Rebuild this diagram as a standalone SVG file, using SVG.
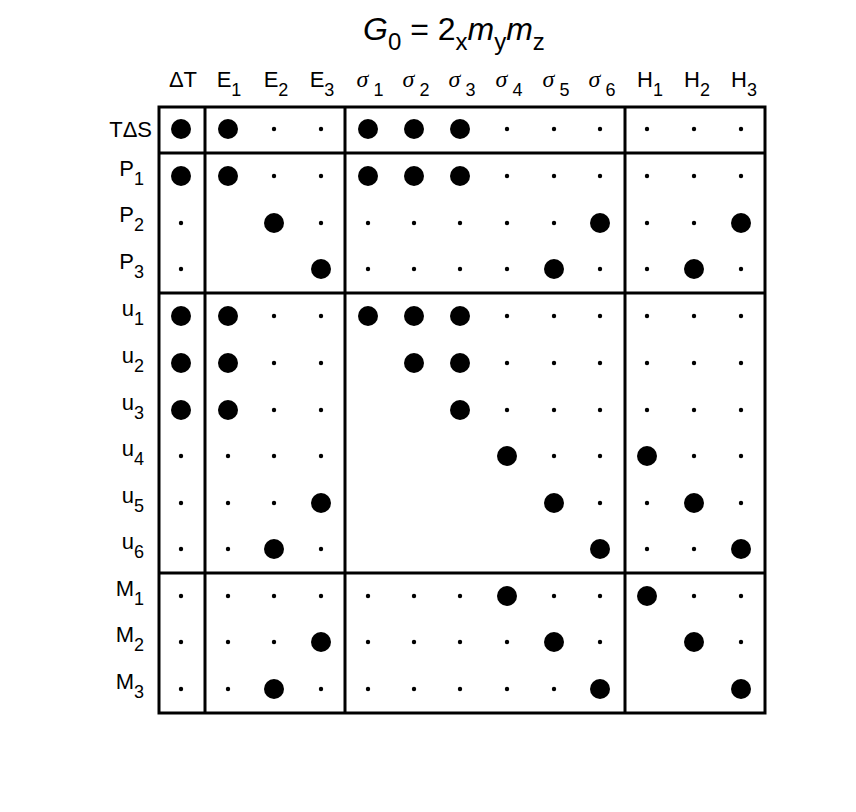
<svg xmlns="http://www.w3.org/2000/svg" xmlns:xlink="http://www.w3.org/1999/xlink" width="856" height="812" viewBox="0 0 856 812">
<style>
text{font-family:"Liberation Sans",Arial,sans-serif;font-size:22px;fill:#000}
.s{font-size:18px}
.g{font-family:"Liberation Serif",serif;font-style:italic;font-size:24px}
.t{font-size:32px}
.l{stroke:#000;stroke-width:3;fill:none}
</style>
<defs>
<circle id="B" r="10" fill="#000"/>
<circle id="s" r="2.2" fill="#000"/>
</defs>
<rect width="856" height="812" fill="#fff"/>
<g id="title"><text x="363" y="40" class="t"><tspan font-style="italic">G</tspan><tspan font-size="24" dy="10">0</tspan><tspan dy="-10"> = 2</tspan><tspan font-size="24" dy="10">x</tspan><tspan dy="-10" font-style="italic">m</tspan><tspan font-size="24" dy="10">y</tspan><tspan dy="-10" font-style="italic">m</tspan><tspan font-size="24" dy="10">z</tspan></text></g>
<g id="headers" text-anchor="middle">
<text x="183" y="87">ΔT</text>
<text x="229" y="87">E<tspan class="s" dy="9">1</tspan></text>
<text x="276" y="87">E<tspan class="s" dy="9">2</tspan></text>
<text x="322" y="87">E<tspan class="s" dy="9">3</tspan></text>
<text x="370" y="87"><tspan class="g">σ</tspan><tspan class="s" dy="9"> 1</tspan></text>
<text x="416" y="87"><tspan class="g">σ</tspan><tspan class="s" dy="9"> 2</tspan></text>
<text x="462" y="87"><tspan class="g">σ</tspan><tspan class="s" dy="9"> 3</tspan></text>
<text x="509" y="87"><tspan class="g">σ</tspan><tspan class="s" dy="9"> 4</tspan></text>
<text x="556" y="87"><tspan class="g">σ</tspan><tspan class="s" dy="9"> 5</tspan></text>
<text x="602" y="87"><tspan class="g">σ</tspan><tspan class="s" dy="9"> 6</tspan></text>
<text x="650" y="87">H<tspan class="s" dy="9">1</tspan></text>
<text x="697" y="87">H<tspan class="s" dy="9">2</tspan></text>
<text x="744" y="87">H<tspan class="s" dy="9">3</tspan></text>
</g>
<g id="rowlabels" text-anchor="end">
<text x="152" y="137">TΔS</text>
<text x="144" y="176">P<tspan class="s" dy="9">1</tspan></text>
<text x="144" y="222">P<tspan class="s" dy="9">2</tspan></text>
<text x="144" y="269">P<tspan class="s" dy="9">3</tspan></text>
<text x="144" y="316">u<tspan class="s" dy="9">1</tspan></text>
<text x="144" y="363">u<tspan class="s" dy="9">2</tspan></text>
<text x="144" y="410">u<tspan class="s" dy="9">3</tspan></text>
<text x="144" y="456">u<tspan class="s" dy="9">4</tspan></text>
<text x="144" y="503">u<tspan class="s" dy="9">5</tspan></text>
<text x="144" y="549">u<tspan class="s" dy="9">6</tspan></text>
<text x="144" y="596">M<tspan class="s" dy="9">1</tspan></text>
<text x="144" y="642">M<tspan class="s" dy="9">2</tspan></text>
<text x="144" y="689">M<tspan class="s" dy="9">3</tspan></text>
</g>
<g id="grid" class="l">
<rect x="159" y="107" width="606" height="606"/>
<line x1="205" y1="107" x2="205" y2="713"/>
<line x1="345" y1="107" x2="345" y2="713"/>
<line x1="625" y1="107" x2="625" y2="713"/>
<line x1="159" y1="153" x2="765" y2="153"/>
<line x1="159" y1="293" x2="765" y2="293"/>
<line x1="159" y1="573" x2="765" y2="573"/>
</g>
<g id="dots">
<g transform="translate(0,129)"><use href="#B" x="181"/><use href="#B" x="228"/><use href="#s" x="274"/><use href="#s" x="321"/><use href="#B" x="368"/><use href="#B" x="414"/><use href="#B" x="460"/><use href="#s" x="507"/><use href="#s" x="554"/><use href="#s" x="600"/><use href="#s" x="647"/><use href="#s" x="694"/><use href="#s" x="741"/></g>
<g transform="translate(0,176)"><use href="#B" x="181"/><use href="#B" x="228"/><use href="#s" x="274"/><use href="#s" x="321"/><use href="#B" x="368"/><use href="#B" x="414"/><use href="#B" x="460"/><use href="#s" x="507"/><use href="#s" x="554"/><use href="#s" x="600"/><use href="#s" x="647"/><use href="#s" x="694"/><use href="#s" x="741"/></g>
<g transform="translate(0,223)"><use href="#s" x="181"/><use href="#B" x="274"/><use href="#s" x="321"/><use href="#s" x="368"/><use href="#s" x="414"/><use href="#s" x="460"/><use href="#s" x="507"/><use href="#s" x="554"/><use href="#B" x="600"/><use href="#s" x="647"/><use href="#s" x="694"/><use href="#B" x="741"/></g>
<g transform="translate(0,269)"><use href="#s" x="181"/><use href="#B" x="321"/><use href="#s" x="368"/><use href="#s" x="414"/><use href="#s" x="460"/><use href="#s" x="507"/><use href="#B" x="554"/><use href="#s" x="600"/><use href="#s" x="647"/><use href="#B" x="694"/><use href="#s" x="741"/></g>
<g transform="translate(0,316)"><use href="#B" x="181"/><use href="#B" x="228"/><use href="#s" x="274"/><use href="#s" x="321"/><use href="#B" x="368"/><use href="#B" x="414"/><use href="#B" x="460"/><use href="#s" x="507"/><use href="#s" x="554"/><use href="#s" x="600"/><use href="#s" x="647"/><use href="#s" x="694"/><use href="#s" x="741"/></g>
<g transform="translate(0,363)"><use href="#B" x="181"/><use href="#B" x="228"/><use href="#s" x="274"/><use href="#s" x="321"/><use href="#B" x="414"/><use href="#B" x="460"/><use href="#s" x="507"/><use href="#s" x="554"/><use href="#s" x="600"/><use href="#s" x="647"/><use href="#s" x="694"/><use href="#s" x="741"/></g>
<g transform="translate(0,410)"><use href="#B" x="181"/><use href="#B" x="228"/><use href="#s" x="274"/><use href="#s" x="321"/><use href="#B" x="460"/><use href="#s" x="507"/><use href="#s" x="554"/><use href="#s" x="600"/><use href="#s" x="647"/><use href="#s" x="694"/><use href="#s" x="741"/></g>
<g transform="translate(0,456)"><use href="#s" x="181"/><use href="#s" x="228"/><use href="#s" x="274"/><use href="#s" x="321"/><use href="#B" x="507"/><use href="#s" x="554"/><use href="#s" x="600"/><use href="#B" x="647"/><use href="#s" x="694"/><use href="#s" x="741"/></g>
<g transform="translate(0,503)"><use href="#s" x="181"/><use href="#s" x="228"/><use href="#s" x="274"/><use href="#B" x="321"/><use href="#B" x="554"/><use href="#s" x="600"/><use href="#s" x="647"/><use href="#B" x="694"/><use href="#s" x="741"/></g>
<g transform="translate(0,549)"><use href="#s" x="181"/><use href="#s" x="228"/><use href="#B" x="274"/><use href="#s" x="321"/><use href="#B" x="600"/><use href="#s" x="647"/><use href="#s" x="694"/><use href="#B" x="741"/></g>
<g transform="translate(0,596)"><use href="#s" x="181"/><use href="#s" x="228"/><use href="#s" x="274"/><use href="#s" x="321"/><use href="#s" x="368"/><use href="#s" x="414"/><use href="#s" x="460"/><use href="#B" x="507"/><use href="#s" x="554"/><use href="#s" x="600"/><use href="#B" x="647"/><use href="#s" x="694"/><use href="#s" x="741"/></g>
<g transform="translate(0,642)"><use href="#s" x="181"/><use href="#s" x="228"/><use href="#s" x="274"/><use href="#B" x="321"/><use href="#s" x="368"/><use href="#s" x="414"/><use href="#s" x="460"/><use href="#s" x="507"/><use href="#B" x="554"/><use href="#s" x="600"/><use href="#B" x="694"/><use href="#s" x="741"/></g>
<g transform="translate(0,689)"><use href="#s" x="181"/><use href="#s" x="228"/><use href="#B" x="274"/><use href="#s" x="321"/><use href="#s" x="368"/><use href="#s" x="414"/><use href="#s" x="460"/><use href="#s" x="507"/><use href="#s" x="554"/><use href="#B" x="600"/><use href="#B" x="741"/></g>
</g>
</svg>
